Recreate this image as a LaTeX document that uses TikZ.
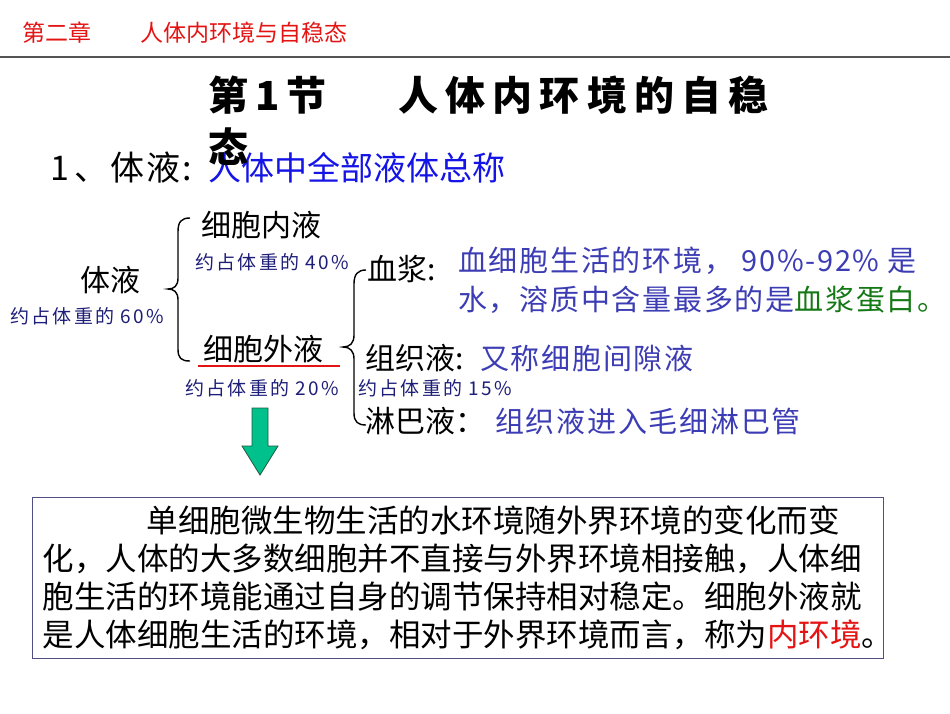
\documentclass[tikz,border=0pt]{standalone}
\usepackage{fontspec}
\setmainfont{Noto Sans CJK SC}
\newfontfamily\sparse{Noto Sans CJK SC}[LetterSpace=12]
\newfontfamily\medium{Noto Sans CJK SC}[LetterSpace=6]
\newfontfamily\headfont{Noto Sans CJK SC}[LetterSpace=18]
\usepackage{xcolor}
\definecolor{hdred}{RGB}{228,20,20}
\definecolor{rulegray}{RGB}{85,85,85}
\definecolor{navy}{RGB}{30,30,120}
\definecolor{descblue}{RGB}{60,60,180}
\definecolor{brightblue}{RGB}{20,20,230}
\definecolor{plasmagreen}{RGB}{20,120,20}
\definecolor{arrowgreen}{RGB}{0,192,140}
\definecolor{arrowedge}{RGB}{30,90,60}
\definecolor{boxedge}{RGB}{80,80,130}
\usetikzlibrary{positioning}

\begin{document}
\begin{tikzpicture}[x=1pt,y=-1pt,
		every node/.style={inner sep=0pt,anchor=west},
		chap/.style={text=hdred,font=\fontsize{23}{23}\selectfont},
		sectitle/.style={font=\headfont\bfseries\fontsize{40}{40}\selectfont},
		lead/.style={font=\medium\fontsize{34}{34}\selectfont},
		term/.style={font=\fontsize{30}{30}\selectfont},
		share/.style={text=navy,font=\sparse\fontsize{19}{19}\selectfont},
		desc/.style={text=descblue,font=\medium\fontsize{29}{29}\selectfont},
		brace/.style={draw,line width=1.4pt}]
		\useasboundingbox (0,0) rectangle (950,713);
		
		% Header
		\node[chap] (chapno) at (22,33) {第二章};
		\node[chap] (chapname) at (140,33) {人体内环境与自稳态};
		\draw[rulegray,line width=2pt] (0,57) -- (950,57);
		
		% Title
		\node[sectitle] (secno) at (208,95) {第1节};
		\node[sectitle] (secname) at (398,95) {人体内环境的自稳};
		
		% Definition
		\node[lead] (defterm) at (50,168) {1\,、体液:};
		\node[lead,text=brightblue,font=\fontsize{33}{33}\selectfont] (defbody) at (208,168) {人体中全部液体总称};
		\node[sectitle] (secrest) at (208,147) {态};
		
		% Body fluid tree
		\node[term] (body) at (80,280) {体液};
		\node[share] (body60) at (10,316) {约占体重的 60\%};
		\node[term] (icf) at (201,225) {细胞内液};
		\node[share] (icf40) at (195,262) {约占体重的 40\%};
		\node[term] (ecf) at (203,349) {细胞外液};
		\node[share] (ecf20) at (185,388) {约占体重的 20\%};
		\draw[hdred,line width=2pt] (198,366) -- (340,366);
		\draw[brace] (190,218) .. controls (181,218) and (178,222) .. (178,232) -- (178,278)
			.. controls (178,286) and (174,289) .. (168,289)
			.. controls (174,289) and (178,292) .. (178,300) -- (178,349)
			.. controls (178,358) and (181,361) .. (190,361);
		
		% Extracellular fluid
		\node[term] (plasma) at (367,269) {血浆:};
		\node[desc] (plasmadesc) at (458,261) {血细胞生活的环境， 90\%-92\% 是};
		\node[desc] (plasmamore) at (458,300) {水，溶质中含量最多的是\textcolor{plasmagreen}{血浆蛋白。}};
		\node[term] (tissue) at (365,358) {组织液:};
		\node[desc] (tissuedesc) at (480,358) {又称细胞间隙液};
		\node[share] (tissue15) at (358,388) {约占体重的 15\%};
		\node[term] (lymph) at (365,421) {淋巴液：};
		\node[desc] (lymphdesc) at (495,421) {组织液进入毛细淋巴管};
		\draw[brace] (366,270) .. controls (358,270) and (354,274) .. (354,284) -- (354,335)
			.. controls (354,343) and (350,347) .. (343,347)
			.. controls (350,347) and (354,351) .. (354,359) -- (354,413)
			.. controls (354,422) and (358,425) .. (366,425);
		
		% Arrow down to the box
		\draw[arrowedge,fill=arrowgreen,line width=0.8pt] (252,408) -- (268,408) -- (268,446)
			-- (278,446) -- (260,475) -- (242,446) -- (252,446) -- cycle;
		
		% Summary
		\node[draw=boxedge,line width=1.2pt,anchor=north west,inner xsep=10pt,
			minimum height=161pt,text width=831pt,align=left,
			font=\fontsize{31.5}{38}\selectfont] (summary) at (32,497)
			{\hspace*{3.3em}单细胞微生物生活的水环境随外界环境的变化而变\\
			化，人体的大多数细胞并不直接与外界环境相接触，人体细\\
			胞生活的环境能通过自身的调节保持相对稳定。细胞外液就\\
			是人体细胞生活的环境，相对于外界环境而言，称为\textcolor{hdred}{内环境}。};
		
	\end{tikzpicture}
\end{document}
